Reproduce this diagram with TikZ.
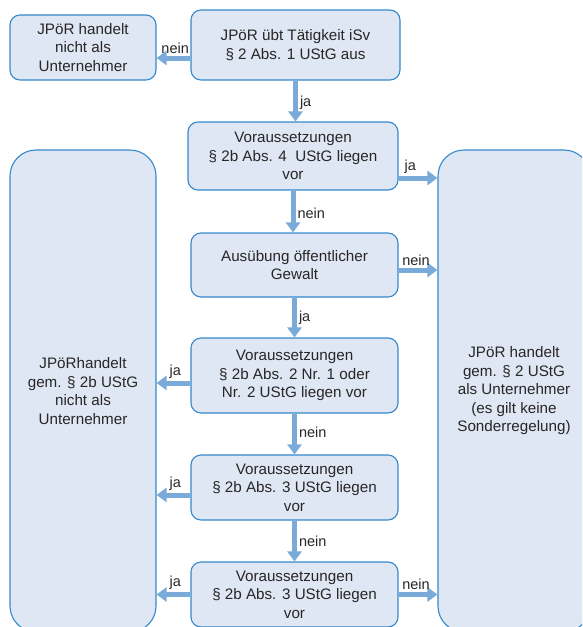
\documentclass[tikz,border=0pt]{standalone}
\usepackage{fontspec}
\setmainfont{Liberation Sans}
\usepackage{tikz}
\usetikzlibrary{positioning,shapes,arrows.meta,calc}

\definecolor{boxfill}{RGB}{223,231,244}
\definecolor{boxline}{RGB}{52,136,204}
\definecolor{flowblue}{RGB}{122,170,215}
\definecolor{txtgray}{RGB}{40,38,38}

\begin{document}
\begin{tikzpicture}[x=1pt,y=-1pt]
\tikzset{
    box/.style={rectangle, draw=boxline, line width=1.1pt, fill=boxfill, rounded corners=10pt, align=center, text=txtgray, font=\fontsize{15.2}{18.5}\selectfont, inner sep=2pt},
    bigbox/.style={box, rounded corners=26pt, minimum width=146pt, minimum height=482pt},
    flow/.style={draw=flowblue, line width=5pt, -{Triangle[width=14pt,length=10pt]}},
    lbl/.style={text=txtgray, font=\fontsize{14.5}{16}\selectfont, inner sep=2pt}
}
\useasboundingbox (0,0) rectangle (582,627);
\clip (0,0) rectangle (582,627);

\node[box, minimum width=209pt, minimum height=70pt] (taetigkeit) at (295.5,45) {JPöR übt Tätigkeit iSv\\§ 2 Abs. 1 UStG aus};
\node[box, minimum width=146pt, minimum height=65pt] (keinunt) at (83,47.5) {JPöR handelt\\nicht als\\Unternehmer};
\node[box, minimum width=210pt, minimum height=68pt] (abs4) at (293,156) {Voraussetzungen\\§ 2b Abs. 4 \ UStG liegen\\vor};
\node[box, minimum width=207pt, minimum height=64pt] (gewalt) at (294.5,265) {Ausübung öffentlicher\\Gewalt};
\node[box, minimum width=207pt, minimum height=75pt] (abs2) at (294.5,375.5) {Voraussetzungen\\§ 2b Abs. 2 Nr. 1 oder\\Nr. 2 UStG liegen vor};
\node[box, minimum width=207pt, minimum height=65pt] (abs3a) at (294.5,487.5) {Voraussetzungen\\§ 2b Abs. 3 UStG liegen\\vor};
\node[box, minimum width=207pt, minimum height=65pt] (abs3b) at (294.5,594.5) {Voraussetzungen\\§ 2b Abs. 3 UStG liegen\\vor};

\node[bigbox] (nichtunt) at (83,391) {JPöRhandelt\\gem. § 2b UStG\\nicht als\\Unternehmer};
\node[bigbox, minimum width=152pt] (unt) at (514,391) {JPöR handelt\\gem. § 2 UStG\\als Unternehmer\\(es gilt keine\\Sonderregelung)};

\draw[flow] ([yshift=-13pt]taetigkeit.west) -- node[lbl, above, pos=0.45] {nein} ([yshift=-13pt]taetigkeit.west -| keinunt.east);
\draw[flow] (taetigkeit.south) -- node[lbl, right, pos=0.55] {ja} (taetigkeit.south |- abs4.north);
\draw[flow] ([yshift=-22pt]abs4.east) -- node[lbl, above, pos=0.3] {ja} ([yshift=-22pt]abs4.east -| unt.west);
\draw[flow] (abs4.south) -- node[lbl, right, pos=0.55] {nein} (abs4.south |- gewalt.north);
\draw[flow] ([yshift=-5pt]gewalt.east) -- node[lbl, above, pos=0.45] {nein} ([yshift=-5pt]gewalt.east -| unt.west);
\draw[flow] (gewalt.south) -- node[lbl, right, pos=0.5] {ja} (gewalt.south |- abs2.north);
\draw[flow] ([yshift=-7.5pt]abs2.west) -- node[lbl, above, pos=0.45] {ja} ([yshift=-7.5pt]abs2.west -| nichtunt.east);
\draw[flow] (abs2.south) -- node[lbl, right, pos=0.45] {nein} (abs2.south |- abs3a.north);
\draw[flow] ([yshift=-7.5pt]abs3a.west) -- node[lbl, above, pos=0.45] {ja} ([yshift=-7.5pt]abs3a.west -| nichtunt.east);
\draw[flow] (abs3a.south) -- node[lbl, right, pos=0.5] {nein} (abs3a.south |- abs3b.north);
\draw[flow] (abs3b.west) -- node[lbl, above, pos=0.45] {ja} (abs3b.west -| nichtunt.east);
\draw[flow] (abs3b.east) -- node[lbl, above, pos=0.45] {nein} (abs3b.east -| unt.west);
\end{tikzpicture}
\end{document}
